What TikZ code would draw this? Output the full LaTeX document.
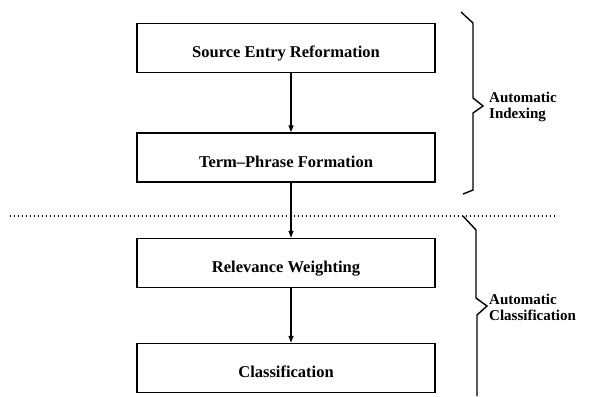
\documentclass[tikz,border=0pt]{standalone}
\usepackage{fontspec}
\setmainfont{Liberation Serif}
\usetikzlibrary{calc,arrows.meta}
\begin{document}
\begin{tikzpicture}[x=1pt,y=-1pt,
  stagebox/.style={draw,line width=1.5pt,minimum width=298pt,minimum height=49pt,inner sep=0pt,text height=19pt,text depth=0pt,font=\fontsize{16.5}{19}\selectfont\bfseries},
  arr/.style={line width=1.4pt,-{Triangle[length=7pt,width=5pt]}},
  bracep/.style={line width=1.4pt,line join=miter},
  lab/.style={anchor=west,align=left,inner sep=0pt,font=\fontsize{15}{16}\selectfont\bfseries}]
\useasboundingbox (0,0) rectangle (591,396);
\node[stagebox] (b1) at (286,48) {Source Entry Reformation};
\node[stagebox] (b2) at (286,157.5) {Term--Phrase Formation};
\node[stagebox] (b3) at (286,263) {Relevance Weighting};
\node[stagebox] (b4) at (286,368) {Classification};
\draw[arr] ($(b1.south)+(5,0)$) -- ($(b2.north)+(5,0)$);
\draw[arr] ($(b2.south)+(5,0)$) -- ($(b3.north)+(5,0)$);
\draw[arr] ($(b3.south)+(5,0)$) -- ($(b4.north)+(5,0)$);
\coordinate (dl) at (10,216);
\coordinate (dr) at (558,216);
\draw[line width=1.3pt,dash pattern=on 1.3pt off 2.7pt] (dl) -- (dr);
\draw[bracep] (461,12) -- (473,23) -- (473,98) -- (483,106) -- (473,113) -- (473,190) -- (463,194);
\draw[bracep] (463,216) -- (476,230) -- (476,298) -- (487,306) -- (477,315) -- (477,396);
\node[lab] (l1) at (489,107) {Automatic\\Indexing};
\node[lab] (l2) at (489,307) {Automatic\\Classification};
\end{tikzpicture}
\end{document}
